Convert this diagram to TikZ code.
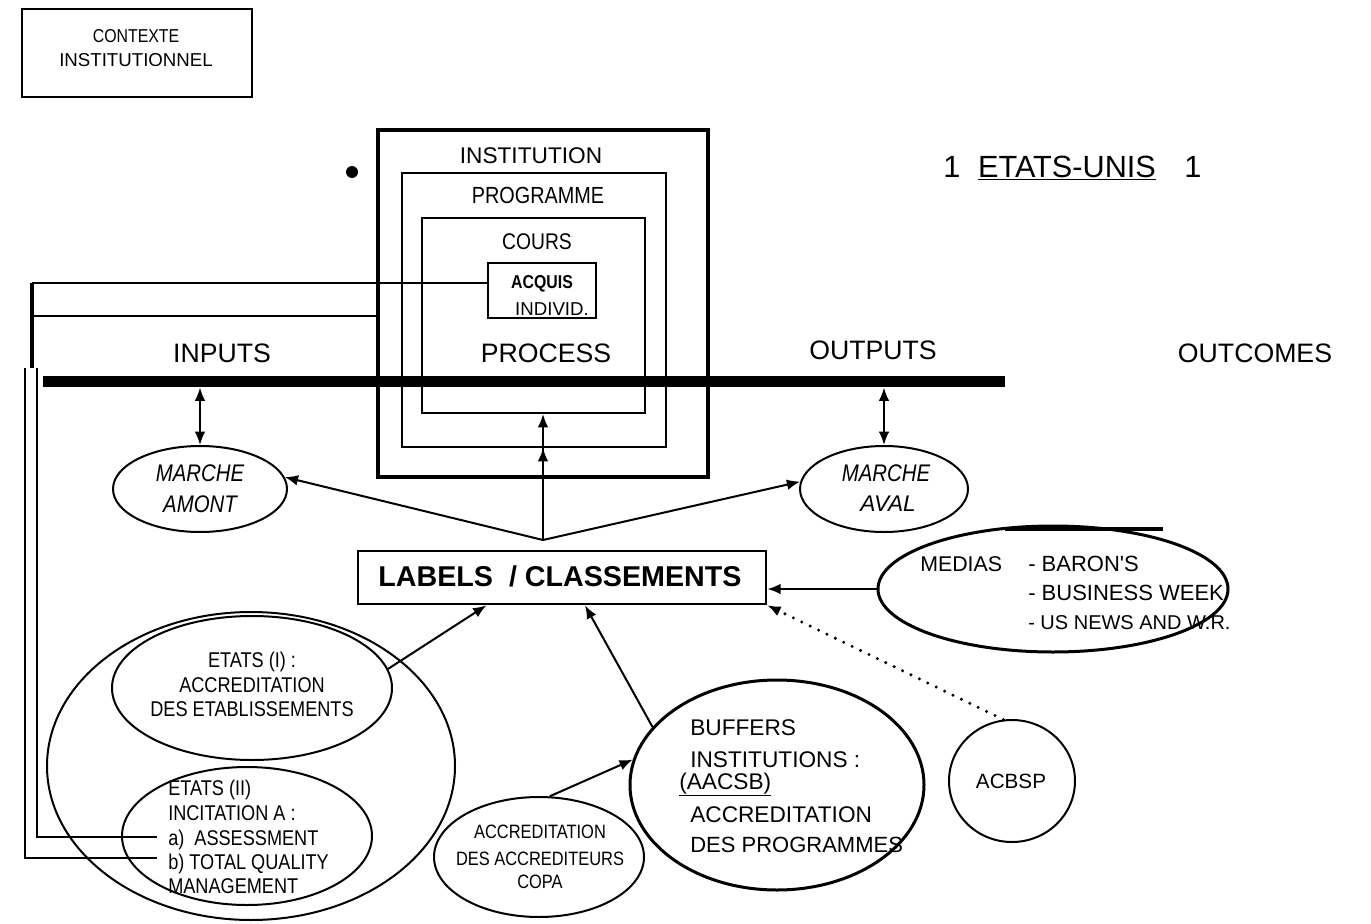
\documentclass[tikz,border=0pt]{standalone}
\usepackage{fontspec}
\setmainfont{Liberation Sans}
\newfontfamily\cond[FakeStretch=0.85]{Liberation Sans}
\usetikzlibrary{shapes.geometric,arrows.meta,calc}
\begin{document}
\begin{tikzpicture}[x=0.75pt,y=-0.75pt,
  box/.style={draw, rectangle, inner sep=0pt},
  ell/.style={draw, ellipse, inner sep=0pt, line width=1.5pt},
  t/.style={inner sep=0pt, anchor=base},
  tl/.style={inner sep=0pt, anchor=base west},
  arr/.style={-{Latex[length=10pt,width=8pt]}, line width=1.5pt},
  darr/.style={{Latex[length=10pt,width=8pt]}-{Latex[length=10pt,width=8pt]}, line width=1.5pt},
  dotline/.style={-{Latex[length=10pt,width=8pt]}, line width=2.5pt, dash pattern=on 0pt off 7pt, line cap=round},
  big/.style={font=\fontsize{20}{24}\selectfont},
  cn/.style={font=\cond\fontsize{16}{19}\selectfont},
  bf/.style={font=\fontsize{17}{20}\selectfont},
]
\useasboundingbox (0,0) rectangle (1371,924);

% context box
\node[box, line width=1.5pt, minimum width=172.5pt, minimum height=66pt] (ctx) at (137,53) {};
\node[t, font=\cond\fontsize{14}{17}\selectfont] (ctx1) at (136,43) {CONTEXTE};
\node[t, font=\fontsize{14}{17}\selectfont] (ctx2) at (136,67) {INSTITUTIONNEL};

% nested boxes
\node[box, line width=3pt, minimum width=247.5pt, minimum height=260.25pt] (inst) at (543,303.5) {};
\node[box, line width=1.5pt, minimum width=198pt, minimum height=205.5pt] (prog) at (534,310) {};
\node[box, line width=1.5pt, minimum width=167.25pt, minimum height=146.25pt] (cours) at (533.5,315.5) {};
\node[box, line width=1.5pt, minimum width=81pt, minimum height=41.25pt] (acq) at (542,290.5) {};
\node[t, font=\fontsize{17}{20}\selectfont] (instT) at (531,163) {INSTITUTION};
\node[t, font=\cond\fontsize{17.5}{20}\selectfont] (progT) at (538,203) {PROGRAMME};
\node[t, font=\cond\fontsize{17}{20}\selectfont] (coursT) at (537,249) {COURS};
\node[t, font=\cond\bfseries\fontsize{14}{17}\selectfont] (acq1) at (542,288) {ACQUIS};
\node[t, font=\fontsize{14}{17}\selectfont] (acq2) at (552,315) {INDIVID.};

% small blob
\fill (352,172) circle (6);

% main bar
\coordinate (barL) at (43,381.5);
\coordinate (barR) at (1005,381.5);
\draw[line width=8.5pt] (barL) -- (barR);

\node[t, big] (inputs) at (222,362) {INPUTS};
\node[t, big] (process) at (546,362) {PROCESS};
\node[t, big] (outputs) at (873,359) {OUTPUTS};
\node[t, big] (outcomes) at (1255,362) {OUTCOMES};

% title
\node[t, font=\fontsize{23}{27}\selectfont] (one1) at (952,177) {1};
\node[t, font=\fontsize{23}{27}\selectfont] (eu) at (1067,177) {\underline{ETATS-UNIS}};
\node[t, font=\fontsize{23}{27}\selectfont] (one2) at (1193,177) {1};

% left connectors
\coordinate (lt) at (32,283);
\coordinate (lm) at (32,316);
\coordinate (lb) at (32,368);
\draw[line width=3pt] (lb) -- (lt);
\draw[line width=2pt] (lt) -- (lt -| acq.west);
\draw[line width=2pt] (lm) -- (lm -| inst.west);
\coordinate (va) at (37,368);
\coordinate (vb) at (25,368);
\coordinate (ea) at (157,837);
\coordinate (eb) at (157,858);
\draw[line width=1.2pt] (va) |- (ea);
\draw[line width=1.2pt] (vb) |- (eb);

% markets
\node[ell, minimum width=130.5pt, minimum height=64.5pt] (amont) at (200,489) {};
\node[ell, minimum width=126pt, minimum height=64.5pt] (aval) at (884,489) {};
\node[t, font=\cond\itshape\fontsize{18}{21}\selectfont] (am1) at (200,481) {MARCHE};
\node[t, font=\cond\itshape\fontsize{18}{21}\selectfont] (am2) at (200,512) {AMONT};
\node[t, font=\cond\itshape\fontsize{18}{21}\selectfont] (av1) at (886,481) {MARCHE};
\node[t, font=\itshape\fontsize{17}{21}\selectfont] (av2) at (888,511) {AVAL};
\coordinate (ba) at (200,387.5);
\coordinate (bb) at (884,387.5);
\draw[darr] (ba) -- (amont.north);
\draw[darr] (bb) -- (aval.north);

% labels box
\node[box, line width=2pt, minimum width=306pt, minimum height=39.75pt] (labels) at (562,577.5) {};
\node[t, font=\bfseries\fontsize{21.5}{25}\selectfont] (labT) at (560,586) {LABELS\ \ / CLASSEMENTS};

\coordinate (apex) at (543,540);
\draw[arr] (apex) -- (amont.8);
\draw[arr] (apex) -- (aval.175);
\draw[arr] (apex) -- (apex |- prog.south);
\draw[arr] (apex) -- (apex |- cours.south);

% medias
\node[ell, line width=2.25pt, minimum width=262.5pt, minimum height=94.5pt] (medias) at (1053,589) {};
\coordinate (m1) at (1005,529);
\coordinate (m2) at (1163,529);
\draw[line width=2.5pt] (m1) -- (m2);
\node[tl, font=\fontsize{16}{19}\selectfont] (medT) at (920,571) {MEDIAS};
\node[tl, font=\fontsize{16.5}{19}\selectfont] (med1) at (1028,571) {- BARON\textquotesingle S};
\node[tl, font=\fontsize{16.5}{19}\selectfont] (med2) at (1028,600) {- BUSINESS WEEK};
\node[tl, font=\fontsize{15}{19}\selectfont] (med3) at (1028,629) {- US NEWS AND W.R.};
\draw[arr] (medias.west) -- (medias.west -| labels.east);

% acbsp
\node[ell, minimum width=94.5pt, minimum height=91.5pt] (acbsp) at (1012,781) {};
\node[t, font=\fontsize{15.5}{19}\selectfont] (acbT) at (1011,788) {ACBSP};
\draw[dotline] (acbsp.98) -- (labels.south east);

% etats
\node[ell, minimum width=306pt, minimum height=231pt] (bigE) at (251,766) {};
\node[ell, minimum width=210pt, minimum height=108pt] (etats1) at (252,688) {};
\node[ell, minimum width=187.5pt, minimum height=103.5pt] (etats2) at (247,836) {};
\node[t, cn] (e11) at (252,667) {ETATS (I) :};
\node[t, cn] (e12) at (252,692) {ACCREDITATION};
\node[t, cn] (e13) at (252,716) {DES ETABLISSEMENTS};
\node[tl, cn] (e21) at (168,795) {ETATS (II)};
\node[tl, cn] (e22) at (168,820) {INCITATION A :};
\node[tl, cn] (e23) at (168,845) {a)\ \ ASSESSMENT};
\node[tl, cn] (e24) at (168,869) {b) TOTAL QUALITY};
\node[tl, cn] (e25) at (168,893) {MANAGEMENT};
\draw[arr] (etats1.8) -- ($(labels.south west)!0.316!(labels.south east)$);

% buffers
\node[ell, line width=2.25pt, minimum width=220.5pt, minimum height=157.5pt] (buffers) at (777,785) {};
\node[tl, bf] (b1) at (690,735) {BUFFERS};
\node[tl, bf] (b2) at (690,767) {INSTITUTIONS :};
\node[tl, bf] (b3) at (679,789) {\underline{(AACSB)}};
\node[tl, bf] (b4) at (690,822) {ACCREDITATION};
\node[tl, font=\fontsize{16.5}{20}\selectfont] (b5) at (690,852) {DES PROGRAMMES};
\draw[arr] (buffers.155) -- ($(labels.south west)!0.556!(labels.south east)$);

% copa
\node[ell, minimum width=157.5pt, minimum height=90pt] (copa) at (539,857) {};
\node[t, font=\cond\fontsize{14.5}{17}\selectfont] (c1) at (540,838) {ACCREDITATION};
\node[t, font=\cond\fontsize{14.5}{17}\selectfont] (c2) at (540,865) {DES ACCREDITEURS};
\node[t, font=\cond\fontsize{14.5}{17}\selectfont] (c3) at (540,888) {COPA};
\draw[arr] (copa.80) -- (buffers.170);
\end{tikzpicture}
\end{document}
